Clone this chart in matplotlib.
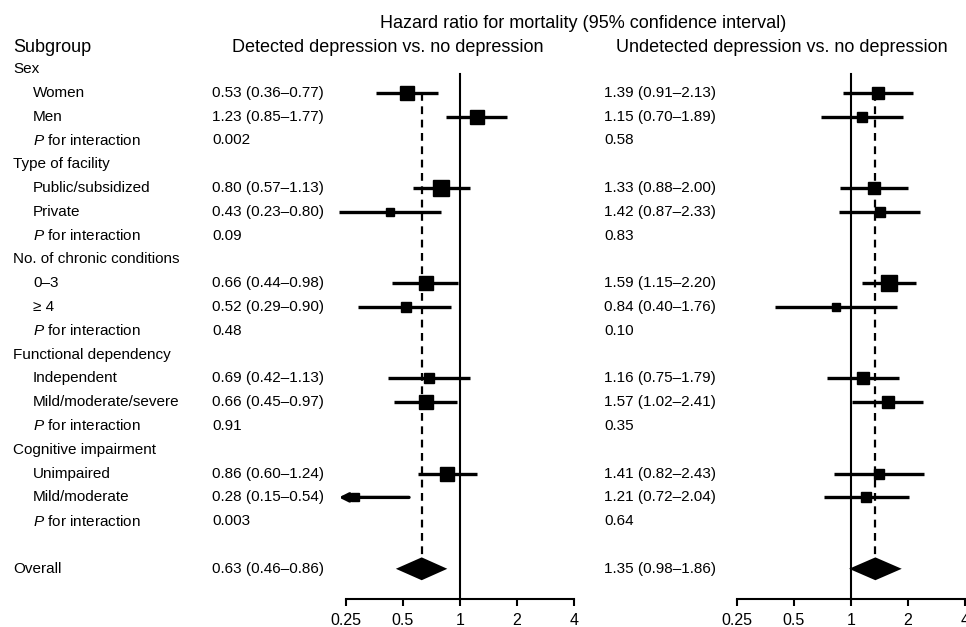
import matplotlib
matplotlib.use("Agg")
import matplotlib.pyplot as plt
import matplotlib.transforms as mtransforms
import numpy as np

plt.rcParams["font.family"] = ["Liberation Sans", "DejaVu Sans"]
plt.rcParams["mathtext.fontset"] = "custom"
plt.rcParams["mathtext.rm"] = "Liberation Sans"
plt.rcParams["mathtext.it"] = "Liberation Sans:italic"

# Data
groups = ["Sex", "Type of facility", "No. of chronic conditions",
          "Functional dependency", "Cognitive impairment"]
subgroups = [["Women", "Men"], ["Public/subsidized", "Private"], ["0–3", "≥ 4"],
             ["Independent", "Mild/moderate/severe"], ["Unimpaired", "Mild/moderate"]]

detected_hr = [0.53, 1.23, 0.80, 0.43, 0.66, 0.52, 0.69, 0.66, 0.86, 0.28]
detected_lo = [0.36, 0.85, 0.57, 0.23, 0.44, 0.29, 0.42, 0.45, 0.60, 0.15]
detected_hi = [0.77, 1.77, 1.13, 0.80, 0.98, 0.90, 1.13, 0.97, 1.24, 0.54]
detected_p = ["0.002", "0.09", "0.48", "0.91", "0.003"]
detected_overall = [0.63, 0.46, 0.86]

undetected_hr = [1.39, 1.15, 1.33, 1.42, 1.59, 0.84, 1.16, 1.57, 1.41, 1.21]
undetected_lo = [0.91, 0.70, 0.88, 0.87, 1.15, 0.40, 0.75, 1.02, 0.82, 0.72]
undetected_hi = [2.13, 1.89, 2.00, 2.33, 2.20, 1.76, 1.79, 2.41, 2.43, 2.04]
undetected_p = ["0.58", "0.83", "0.10", "0.35", "0.64"]
undetected_overall = [1.35, 0.98, 1.86]

ticks = [0.25, 0.5, 1, 2, 4]

W, H = 966, 627
ROW0, STEP = 69, 23.8  # pixel y of first row, row spacing
fig = plt.figure(figsize=(W / 100, H / 100), dpi=100)

XMIN, XMAX = 0.25, 4
ARROW_MIN = 0.23  # CIs reaching below this get an arrow
y_bottom = (599 - ROW0) / STEP
y_top = -ROW0 / STEP


def make_axes(x0, x1):
    ax = fig.add_axes([x0 / W, 1 - 599 / H, (x1 - x0) / W, 599 / H])
    ax.set_xscale("log", base=2)
    ax.set_xlim(XMIN, XMAX)
    ax.set_ylim(y_bottom, y_top)
    for s in ["top", "right", "left"]:
        ax.spines[s].set_visible(False)
    ax.spines["bottom"].set_linewidth(1.5)
    ax.set_xticks(ticks)
    ax.set_xticklabels([f"{t:g}" for t in ticks])
    ax.xaxis.set_minor_locator(matplotlib.ticker.NullLocator())
    ax.tick_params(axis="x", length=5, width=1.5, labelsize=11.5, pad=5)
    ax.set_yticks([])
    ax.patch.set_alpha(0)
    return ax


axL = make_axes(345.7, 573.7)
axR = make_axes(736.7, 964.7)

# Row positions
rows_est = []
rows_p = []
rows_group = []
r = 0
for g, subs in zip(groups, subgroups):
    rows_group.append(r)
    r += 1
    for _ in subs:
        rows_est.append(r)
        r += 1
    rows_p.append(r)
    r += 1
row_overall = r + 1

fx = lambda px: px / W
trL = mtransforms.blended_transform_factory(fig.transFigure, axL.transData)

# Header texts
fig.text(fx(583), 1 - 23 / H, "Hazard ratio for mortality (95% confidence interval)",
         ha="center", va="center", fontsize=13)
fig.text(fx(13), 1 - 47 / H, "Subgroup", ha="left", va="center", fontsize=13)
fig.text(fx(388), 1 - 47 / H, "Detected depression vs. no depression",
         ha="center", va="center", fontsize=13)
fig.text(fx(782), 1 - 47 / H, "Undetected depression vs. no depression",
         ha="center", va="center", fontsize=13)

# Subgroup labels
i = 0
for gi, (g, subs) in enumerate(zip(groups, subgroups)):
    axL.text(fx(13), rows_group[gi], g, transform=trL, ha="left", va="center", fontsize=11)
    for s in subs:
        axL.text(fx(33), rows_est[i], s, transform=trL, ha="left", va="center", fontsize=11)
        i += 1
    axL.text(fx(33), rows_p[gi], "$P$ for interaction", transform=trL,
             ha="left", va="center", fontsize=11)
axL.text(fx(13), row_overall, "Overall", transform=trL, ha="left", va="center", fontsize=11)


def forest(ax, text_x, hr, lo, hi, pvals, overall):
    tr = mtransforms.blended_transform_factory(fig.transFigure, ax.transData)
    for y, h, l, u in zip(rows_est, hr, lo, hi):
        ax.text(fx(text_x), y, f"{h:.2f} ({l:.2f}–{u:.2f})", transform=tr,
                ha="left", va="center", fontsize=11)
        side_px = 10.5 / np.log(u / l)
        if l < ARROW_MIN:
            ax.annotate("", xy=(ARROW_MIN, y), xytext=(u, y),
                        arrowprops=dict(arrowstyle="-|>", lw=2.4, color="k",
                                        mutation_scale=13, shrinkA=0, shrinkB=0),
                        annotation_clip=False, zorder=3)
        else:
            ax.plot([l, u], [y, y], color="k", lw=2.4, solid_capstyle="butt",
                    zorder=3, clip_on=False)
        ax.plot([h], [y], marker="s", color="k", markersize=side_px * 0.72,
                zorder=4, clip_on=False)
    for y, p in zip(rows_p, pvals):
        ax.text(fx(text_x), y, p, transform=tr, ha="left", va="center", fontsize=11)
    h, l, u = overall
    ax.text(fx(text_x), row_overall, f"{h:.2f} ({l:.2f}–{u:.2f})", transform=tr,
            ha="left", va="center", fontsize=11)
    half = 0.48
    ax.fill([l, h, u, h], [row_overall, row_overall - half, row_overall, row_overall + half],
            color="k", zorder=4, lw=0)
    # reference lines
    ax.plot([1, 1], [0.2, y_bottom], color="k", lw=1.5, zorder=2, clip_on=False)
    ax.plot([h, h], [1, row_overall - half], color="k", lw=1.6,
            linestyle=(0, (3.5, 2.5)), zorder=2)


forest(axL, 212, detected_hr, detected_lo, detected_hi, detected_p, detected_overall)
forest(axR, 604, undetected_hr, undetected_lo, undetected_hi, undetected_p, undetected_overall)

fig.savefig("out.png", dpi=100)
